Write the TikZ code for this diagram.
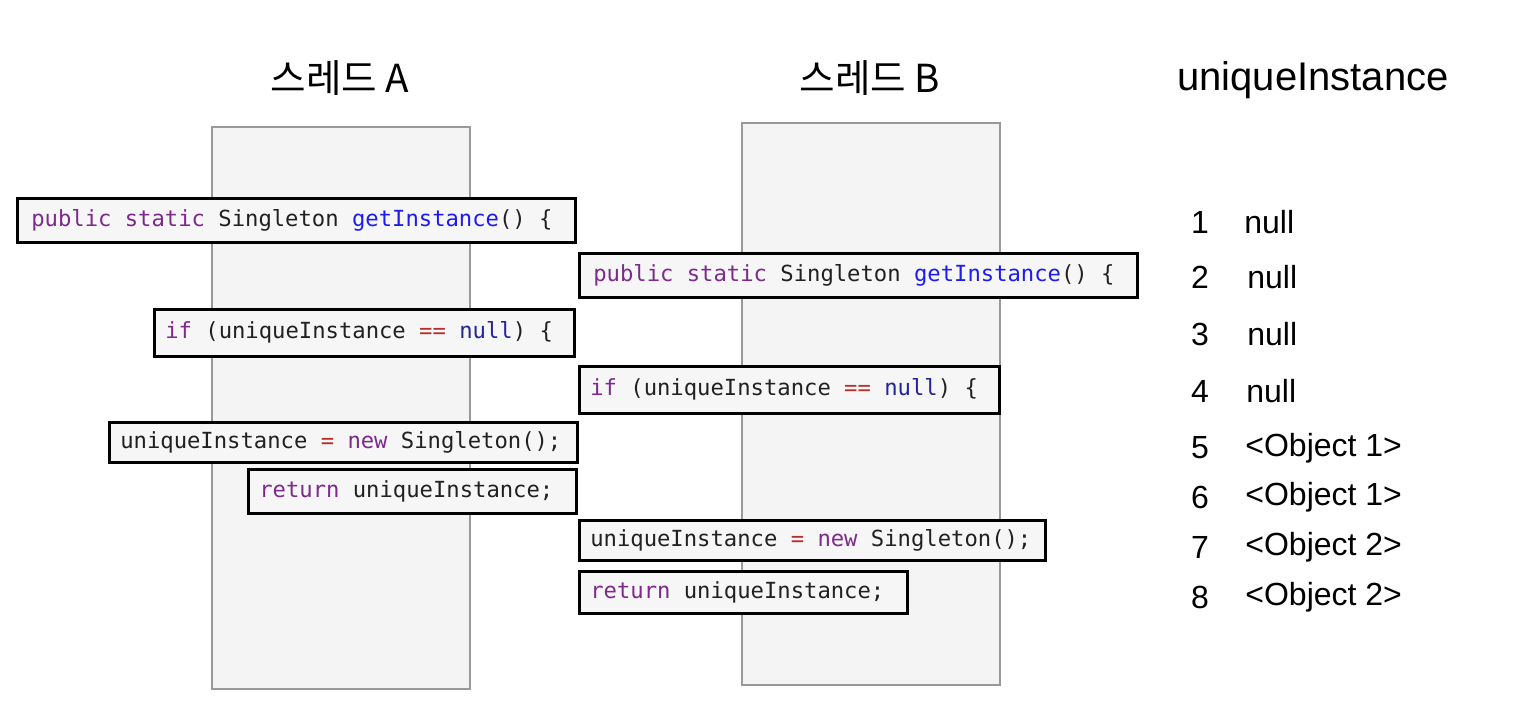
\documentclass[tikz,border=0pt]{standalone}
\usepackage{fontspec}
\setmainfont{Liberation Sans}
\setmonofont{DejaVu Sans Mono}
\newfontfamily\krfont{Noto Sans CJK KR}
\usepackage{tikz,xcolor}
\usetikzlibrary{calc}

\definecolor{kwpurple}{HTML}{7D2A8C}
\definecolor{fnblue}{HTML}{1C1CF0}
\definecolor{opred}{HTML}{B3302E}
\definecolor{nulblue}{HTML}{24249C}
\definecolor{lanegray}{HTML}{F4F4F4}
\definecolor{boxgray}{HTML}{F6F6F6}

\newcommand{\kwd}[1]{\textcolor{kwpurple}{#1}}
\newcommand{\fnc}[1]{\textcolor{fnblue}{#1}}
\newcommand{\opr}[1]{\textcolor{opred}{#1}}
\newcommand{\nul}[1]{\textcolor{nulblue}{#1}}

\tikzset{
  lane/.style={fill=lanegray, draw=black!40, line width=0.6pt},
  codebox/.style={draw=black, fill=boxgray, line width=1.3pt, anchor=north west,
    align=left, inner xsep=5.5pt, inner ysep=0pt,
    font=\ttfamily\fontsize{11.1}{13}\selectfont, text=black!87,
    execute at begin node={\spaceskip=0.602em\relax}},
  title/.style={font=\fontsize{20}{24}\selectfont},
  ktitle/.style={font=\krfont\fontsize{19.3}{23}\selectfont},
  step num/.style={font=\fontsize{16}{19}\selectfont},
  step val/.style={font=\fontsize{16}{19}\selectfont, anchor=west, inner xsep=0pt}
}

\begin{document}
\begin{tikzpicture}[x=0.5pt,y=-0.5pt]
\useasboundingbox (0,0) rectangle (1522,720);

%lanes
\draw[lane] (212,127) rectangle (470,689);
\draw[lane] (742,123) rectangle (1000,685);

%titles
\node[ktitle] (titleA) at (340,78) {스레드 A};
\node[ktitle] (titleB) at (870,78) {스레드 B};
\node[title] (titleU) at (1313,80) {uniqueInstance};

%thread A
\node[codebox, inner xsep=7pt, text width=265pt, minimum height=22pt] (a1) at (16,197)
  {\kwd{public} \kwd{static} Singleton \fnc{getInstance}() \{};
\node[codebox, text width=199pt, minimum height=23.5pt] (a2) at (153,308)
  {\kwd{if} (uniqueInstance \opr{==} \nul{null}) \{};
\node[codebox, text width=223pt, minimum height=20pt] (a3) at (108,421)
  {uniqueInstance \opr{=} \kwd{new} Singleton();};
\node[codebox, text width=153pt, minimum height=22pt] (a4) at (247,468)
  {\kwd{return} uniqueInstance;};

%thread B
\node[codebox, inner xsep=7pt, text width=265pt, minimum height=22pt] (b1) at (578,252)
  {\kwd{public} \kwd{static} Singleton \fnc{getInstance}() \{};
\node[codebox, text width=199pt, minimum height=23.5pt] (b2) at (578,365)
  {\kwd{if} (uniqueInstance \opr{==} \nul{null}) \{};
\node[codebox, text width=222pt, minimum height=20pt] (b3) at (578,519)
  {uniqueInstance \opr{=} \kwd{new} Singleton();};
\node[codebox, text width=153pt, minimum height=21pt] (b4) at (578,570)
  {\kwd{return} uniqueInstance;};

%values of uniqueInstance
\foreach \i/\y/\vx/\val in {1/222/1244/null, 2/277/1247/null, 3/334/1247/null, 4/391/1246/null,
    5/448/1245/{<Object 1>}, 6/497/1245/{<Object 1>}, 7/547/1245/{<Object 2>}, 8/597/1245/{<Object 2>}}{
  \node[step num] (n\i) at (1200,\y) {\i};
  \node[step val] (v\i) at (\vx,\y) {\val};
}

\end{tikzpicture}
\end{document}
